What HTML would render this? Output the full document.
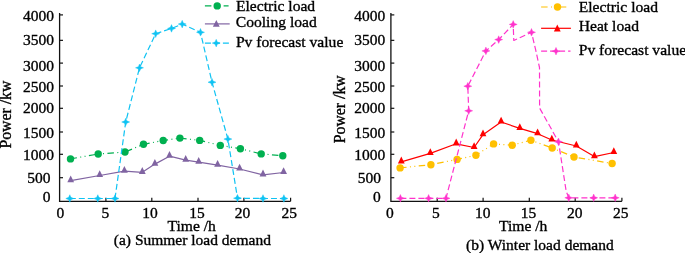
<!DOCTYPE html>
<html><head><meta charset="utf-8"><style>
html,body{margin:0;padding:0;background:#fff;}
body{width:685px;height:253px;overflow:hidden;}
svg{display:block;will-change:transform;}
text{font-family:"Liberation Serif",serif;fill:#000;stroke:#000;stroke-width:0.35px;}
</style></head><body>
<svg width="685" height="253" viewBox="0 0 685 253">
<rect width="685" height="253" fill="#fff"/>
<path d="M59.60,13V201.3H290.60" fill="none" stroke="#111" stroke-width="1.3"/><path d="M59.60,14.9h3.4" stroke="#111" stroke-width="1.2"/><path d="M59.60,40.35h3.4" stroke="#111" stroke-width="1.2"/><path d="M59.60,63.1h3.4" stroke="#111" stroke-width="1.2"/><path d="M59.60,86.0h3.4" stroke="#111" stroke-width="1.2"/><path d="M59.60,108.3h3.4" stroke="#111" stroke-width="1.2"/><path d="M59.60,132.0h3.4" stroke="#111" stroke-width="1.2"/><path d="M59.60,154.3h3.4" stroke="#111" stroke-width="1.2"/><path d="M59.60,177.7h3.4" stroke="#111" stroke-width="1.2"/><path d="M105.90,201.2v-3.4" stroke="#111" stroke-width="1.2"/><path d="M151.80,201.2v-3.4" stroke="#111" stroke-width="1.2"/><path d="M198.00,201.2v-3.4" stroke="#111" stroke-width="1.2"/><path d="M243.90,201.2v-3.4" stroke="#111" stroke-width="1.2"/><path d="M290.60,201.2v-3.4" stroke="#111" stroke-width="1.2"/><text x="22.89" y="21.40" font-size="15.5" >4000</text><text x="22.89" y="45.40" font-size="15.5" >3500</text><text x="22.89" y="70.90" font-size="15.5" >3000</text><text x="22.89" y="92.00" font-size="15.5" >2500</text><text x="22.89" y="113.20" font-size="15.5" >2000</text><text x="22.89" y="138.40" font-size="15.5" >1500</text><text x="22.89" y="160.30" font-size="15.5" >1000</text><text x="27.34" y="183.00" font-size="15.5" >500</text><text x="42.74" y="202.40" font-size="15.5" >0</text><text x="56.61" y="218.30" font-size="15.5" >0</text><text x="101.60" y="218.30" font-size="15.5" >5</text><text x="142.34" y="218.30" font-size="15.5" >10</text><text x="189.14" y="218.30" font-size="15.5" >15</text><text x="234.82" y="218.30" font-size="15.5" >20</text><text x="281.42" y="218.30" font-size="15.5" >25</text><path d="M390.90,13V201.3H621.90" fill="none" stroke="#111" stroke-width="1.3"/><path d="M390.90,14.9h3.4" stroke="#111" stroke-width="1.2"/><path d="M390.90,40.35h3.4" stroke="#111" stroke-width="1.2"/><path d="M390.90,63.1h3.4" stroke="#111" stroke-width="1.2"/><path d="M390.90,86.0h3.4" stroke="#111" stroke-width="1.2"/><path d="M390.90,108.3h3.4" stroke="#111" stroke-width="1.2"/><path d="M390.90,132.0h3.4" stroke="#111" stroke-width="1.2"/><path d="M390.90,154.3h3.4" stroke="#111" stroke-width="1.2"/><path d="M390.90,177.7h3.4" stroke="#111" stroke-width="1.2"/><path d="M437.20,201.2v-3.4" stroke="#111" stroke-width="1.2"/><path d="M483.10,201.2v-3.4" stroke="#111" stroke-width="1.2"/><path d="M529.30,201.2v-3.4" stroke="#111" stroke-width="1.2"/><path d="M575.20,201.2v-3.4" stroke="#111" stroke-width="1.2"/><path d="M621.90,201.2v-3.4" stroke="#111" stroke-width="1.2"/><text x="354.19" y="21.40" font-size="15.5" >4000</text><text x="354.19" y="45.40" font-size="15.5" >3500</text><text x="354.19" y="70.90" font-size="15.5" >3000</text><text x="354.19" y="92.00" font-size="15.5" >2500</text><text x="354.19" y="113.20" font-size="15.5" >2000</text><text x="354.19" y="138.40" font-size="15.5" >1500</text><text x="354.19" y="160.30" font-size="15.5" >1000</text><text x="357.64" y="183.00" font-size="15.5" >500</text><text x="373.04" y="202.40" font-size="15.5" >0</text><text x="386.01" y="218.30" font-size="15.5" >0</text><text x="432.00" y="218.30" font-size="15.5" >5</text><text x="475.04" y="218.30" font-size="15.5" >10</text><text x="520.84" y="218.30" font-size="15.5" >15</text><text x="567.02" y="218.30" font-size="15.5" >20</text><text x="613.02" y="218.30" font-size="15.5" >25</text><polyline points="70.7,180.7 99.7,175.5 124.4,171.1 142.3,172.3 154.9,164.1 169.5,156.2 185.7,160.2 198.7,162.2 217.6,165.2 239.6,169.0 263.0,174.8 283.6,172.5" fill="none" stroke="#8064A2" stroke-width="1.2" stroke-linejoin="round"/><path d="M70.70,175.50L74.10,182.30L67.30,182.30Z" fill="#8064A2"/><path d="M99.70,170.30L103.10,177.10L96.30,177.10Z" fill="#8064A2"/><path d="M124.40,165.90L127.80,172.70L121.00,172.70Z" fill="#8064A2"/><path d="M142.30,167.10L145.70,173.90L138.90,173.90Z" fill="#8064A2"/><path d="M154.90,158.90L158.30,165.70L151.50,165.70Z" fill="#8064A2"/><path d="M169.50,151.00L172.90,157.80L166.10,157.80Z" fill="#8064A2"/><path d="M185.70,155.00L189.10,161.80L182.30,161.80Z" fill="#8064A2"/><path d="M198.70,157.00L202.10,163.80L195.30,163.80Z" fill="#8064A2"/><path d="M217.60,160.00L221.00,166.80L214.20,166.80Z" fill="#8064A2"/><path d="M239.60,163.80L243.00,170.60L236.20,170.60Z" fill="#8064A2"/><path d="M263.00,169.60L266.40,176.40L259.60,176.40Z" fill="#8064A2"/><path d="M283.60,167.30L287.00,174.10L280.20,174.10Z" fill="#8064A2"/><polyline points="70.5,158.9 98.2,154.0 125.0,152.0 143.5,144.3 163.2,140.5 179.9,138.1 199.7,140.4 220.3,145.4 240.4,148.7 261.2,153.9 282.8,155.7" fill="none" stroke="#00B050" stroke-width="1.2" stroke-linejoin="round" stroke-dasharray="6.5 3.4 1 3.4 1 3.4"/><circle cx="70.5" cy="158.9" r="3.7" fill="#00B050"/><circle cx="98.2" cy="154.0" r="3.7" fill="#00B050"/><circle cx="125.0" cy="152.0" r="3.7" fill="#00B050"/><circle cx="143.5" cy="144.3" r="3.7" fill="#00B050"/><circle cx="163.2" cy="140.5" r="3.7" fill="#00B050"/><circle cx="179.9" cy="138.1" r="3.7" fill="#00B050"/><circle cx="199.7" cy="140.4" r="3.7" fill="#00B050"/><circle cx="220.3" cy="145.4" r="3.7" fill="#00B050"/><circle cx="240.4" cy="148.7" r="3.7" fill="#00B050"/><circle cx="261.2" cy="153.9" r="3.7" fill="#00B050"/><circle cx="282.8" cy="155.7" r="3.7" fill="#00B050"/><polyline points="69.8,198.5 97.8,198.5 115.0,198.5 125.7,122.0 139.5,67.8 155.7,33.7 171.5,28.4 182.2,24.1 200.5,32.3 212.0,82.2 227.9,139.1 237.5,198.2 263.0,198.5 283.9,198.5" fill="none" stroke="#0FC3F3" stroke-width="1.2" stroke-linejoin="round" stroke-dasharray="6 3"/><path d="M69.80,194.70L70.95,197.35L73.80,198.50L70.95,199.65L69.80,202.30L68.65,199.65L65.80,198.50L68.65,197.35Z" fill="#0FC3F3" stroke="#0FC3F3" stroke-width="0.4" stroke-linejoin="round"/><path d="M97.80,194.70L98.95,197.35L101.80,198.50L98.95,199.65L97.80,202.30L96.65,199.65L93.80,198.50L96.65,197.35Z" fill="#0FC3F3" stroke="#0FC3F3" stroke-width="0.4" stroke-linejoin="round"/><path d="M115.00,194.70L116.15,197.35L119.00,198.50L116.15,199.65L115.00,202.30L113.85,199.65L111.00,198.50L113.85,197.35Z" fill="#0FC3F3" stroke="#0FC3F3" stroke-width="0.4" stroke-linejoin="round"/><path d="M125.70,118.20L126.85,120.85L129.70,122.00L126.85,123.15L125.70,125.80L124.55,123.15L121.70,122.00L124.55,120.85Z" fill="#0FC3F3" stroke="#0FC3F3" stroke-width="0.4" stroke-linejoin="round"/><path d="M139.50,64.00L140.65,66.65L143.50,67.80L140.65,68.95L139.50,71.60L138.35,68.95L135.50,67.80L138.35,66.65Z" fill="#0FC3F3" stroke="#0FC3F3" stroke-width="0.4" stroke-linejoin="round"/><path d="M155.70,29.90L156.85,32.55L159.70,33.70L156.85,34.85L155.70,37.50L154.55,34.85L151.70,33.70L154.55,32.55Z" fill="#0FC3F3" stroke="#0FC3F3" stroke-width="0.4" stroke-linejoin="round"/><path d="M171.50,24.60L172.65,27.25L175.50,28.40L172.65,29.55L171.50,32.20L170.35,29.55L167.50,28.40L170.35,27.25Z" fill="#0FC3F3" stroke="#0FC3F3" stroke-width="0.4" stroke-linejoin="round"/><path d="M182.20,20.30L183.35,22.95L186.20,24.10L183.35,25.25L182.20,27.90L181.05,25.25L178.20,24.10L181.05,22.95Z" fill="#0FC3F3" stroke="#0FC3F3" stroke-width="0.4" stroke-linejoin="round"/><path d="M200.50,28.50L201.65,31.15L204.50,32.30L201.65,33.45L200.50,36.10L199.35,33.45L196.50,32.30L199.35,31.15Z" fill="#0FC3F3" stroke="#0FC3F3" stroke-width="0.4" stroke-linejoin="round"/><path d="M212.00,78.40L213.15,81.05L216.00,82.20L213.15,83.35L212.00,86.00L210.85,83.35L208.00,82.20L210.85,81.05Z" fill="#0FC3F3" stroke="#0FC3F3" stroke-width="0.4" stroke-linejoin="round"/><path d="M227.90,135.30L229.05,137.95L231.90,139.10L229.05,140.25L227.90,142.90L226.75,140.25L223.90,139.10L226.75,137.95Z" fill="#0FC3F3" stroke="#0FC3F3" stroke-width="0.4" stroke-linejoin="round"/><path d="M237.50,194.40L238.65,197.05L241.50,198.20L238.65,199.35L237.50,202.00L236.35,199.35L233.50,198.20L236.35,197.05Z" fill="#0FC3F3" stroke="#0FC3F3" stroke-width="0.4" stroke-linejoin="round"/><path d="M263.00,194.70L264.15,197.35L267.00,198.50L264.15,199.65L263.00,202.30L261.85,199.65L259.00,198.50L261.85,197.35Z" fill="#0FC3F3" stroke="#0FC3F3" stroke-width="0.4" stroke-linejoin="round"/><path d="M283.90,194.70L285.05,197.35L287.90,198.50L285.05,199.65L283.90,202.30L282.75,199.65L279.90,198.50L282.75,197.35Z" fill="#0FC3F3" stroke="#0FC3F3" stroke-width="0.4" stroke-linejoin="round"/><polyline points="400.1,167.9 430.9,164.7 457.1,159.4 475.9,155.3 493.6,143.9 512.2,145.2 530.9,140.2 552.2,148.0 574.0,157.0 612.1,163.5" fill="none" stroke="#FFC000" stroke-width="1.2" stroke-linejoin="round" stroke-dasharray="6.5 3.4 1 3.4 1 3.4"/><circle cx="400.1" cy="167.9" r="3.7" fill="#FFC000"/><circle cx="430.9" cy="164.7" r="3.7" fill="#FFC000"/><circle cx="457.1" cy="159.4" r="3.7" fill="#FFC000"/><circle cx="475.9" cy="155.3" r="3.7" fill="#FFC000"/><circle cx="493.6" cy="143.9" r="3.7" fill="#FFC000"/><circle cx="512.2" cy="145.2" r="3.7" fill="#FFC000"/><circle cx="530.9" cy="140.2" r="3.7" fill="#FFC000"/><circle cx="552.2" cy="148.0" r="3.7" fill="#FFC000"/><circle cx="574.0" cy="157.0" r="3.7" fill="#FFC000"/><circle cx="612.1" cy="163.5" r="3.7" fill="#FFC000"/><polyline points="401.3,161.8 430.3,153.4 456.2,143.8 474.1,147.5 483.0,134.7 501.1,122.0 519.8,128.4 537.6,133.7 551.8,140.0 576.3,146.0 594.4,156.6 613.8,152.5" fill="none" stroke="#FF0000" stroke-width="1.2" stroke-linejoin="round"/><path d="M401.30,156.60L404.70,163.40L397.90,163.40Z" fill="#FF0000"/><path d="M430.30,148.20L433.70,155.00L426.90,155.00Z" fill="#FF0000"/><path d="M456.20,138.60L459.60,145.40L452.80,145.40Z" fill="#FF0000"/><path d="M474.10,142.30L477.50,149.10L470.70,149.10Z" fill="#FF0000"/><path d="M483.00,129.50L486.40,136.30L479.60,136.30Z" fill="#FF0000"/><path d="M501.10,116.80L504.50,123.60L497.70,123.60Z" fill="#FF0000"/><path d="M519.80,123.20L523.20,130.00L516.40,130.00Z" fill="#FF0000"/><path d="M537.60,128.50L541.00,135.30L534.20,135.30Z" fill="#FF0000"/><path d="M551.80,134.80L555.20,141.60L548.40,141.60Z" fill="#FF0000"/><path d="M576.30,140.80L579.70,147.60L572.90,147.60Z" fill="#FF0000"/><path d="M594.40,151.40L597.80,158.20L591.00,158.20Z" fill="#FF0000"/><path d="M613.80,147.30L617.20,154.10L610.40,154.10Z" fill="#FF0000"/><polyline points="400.4,198.3 428.6,198.3 446.0,198.3 468.7,110.8 467.8,86.2 485.9,50.9 498.7,39.6 513.2,24.4 513.8,40.5 531.5,32.3 535.9,50.9 539.5,67.5 539.6,108.0 558.5,141.8 566.2,191.4 568.8,197.8 593.7,197.8 615.2,197.8" fill="none" stroke="#FF33CC" stroke-width="1.2" stroke-linejoin="round" stroke-dasharray="6 3"/><path d="M400.40,194.50L401.55,197.15L404.40,198.30L401.55,199.45L400.40,202.10L399.25,199.45L396.40,198.30L399.25,197.15Z" fill="#FF33CC" stroke="#FF33CC" stroke-width="0.4" stroke-linejoin="round"/><path d="M428.60,194.50L429.75,197.15L432.60,198.30L429.75,199.45L428.60,202.10L427.45,199.45L424.60,198.30L427.45,197.15Z" fill="#FF33CC" stroke="#FF33CC" stroke-width="0.4" stroke-linejoin="round"/><path d="M446.00,194.50L447.15,197.15L450.00,198.30L447.15,199.45L446.00,202.10L444.85,199.45L442.00,198.30L444.85,197.15Z" fill="#FF33CC" stroke="#FF33CC" stroke-width="0.4" stroke-linejoin="round"/><path d="M468.70,107.00L469.85,109.65L472.70,110.80L469.85,111.95L468.70,114.60L467.55,111.95L464.70,110.80L467.55,109.65Z" fill="#FF33CC" stroke="#FF33CC" stroke-width="0.4" stroke-linejoin="round"/><path d="M467.80,82.40L468.95,85.05L471.80,86.20L468.95,87.35L467.80,90.00L466.65,87.35L463.80,86.20L466.65,85.05Z" fill="#FF33CC" stroke="#FF33CC" stroke-width="0.4" stroke-linejoin="round"/><path d="M485.90,47.10L487.05,49.75L489.90,50.90L487.05,52.05L485.90,54.70L484.75,52.05L481.90,50.90L484.75,49.75Z" fill="#FF33CC" stroke="#FF33CC" stroke-width="0.4" stroke-linejoin="round"/><path d="M498.70,35.80L499.85,38.45L502.70,39.60L499.85,40.75L498.70,43.40L497.55,40.75L494.70,39.60L497.55,38.45Z" fill="#FF33CC" stroke="#FF33CC" stroke-width="0.4" stroke-linejoin="round"/><path d="M513.20,20.60L514.35,23.25L517.20,24.40L514.35,25.55L513.20,28.20L512.05,25.55L509.20,24.40L512.05,23.25Z" fill="#FF33CC" stroke="#FF33CC" stroke-width="0.4" stroke-linejoin="round"/><path d="M531.50,28.50L532.65,31.15L535.50,32.30L532.65,33.45L531.50,36.10L530.35,33.45L527.50,32.30L530.35,31.15Z" fill="#FF33CC" stroke="#FF33CC" stroke-width="0.4" stroke-linejoin="round"/><path d="M558.50,138.00L559.65,140.65L562.50,141.80L559.65,142.95L558.50,145.60L557.35,142.95L554.50,141.80L557.35,140.65Z" fill="#FF33CC" stroke="#FF33CC" stroke-width="0.4" stroke-linejoin="round"/><path d="M568.80,194.00L569.95,196.65L572.80,197.80L569.95,198.95L568.80,201.60L567.65,198.95L564.80,197.80L567.65,196.65Z" fill="#FF33CC" stroke="#FF33CC" stroke-width="0.4" stroke-linejoin="round"/><path d="M593.70,194.00L594.85,196.65L597.70,197.80L594.85,198.95L593.70,201.60L592.55,198.95L589.70,197.80L592.55,196.65Z" fill="#FF33CC" stroke="#FF33CC" stroke-width="0.4" stroke-linejoin="round"/><path d="M615.20,194.00L616.35,196.65L619.20,197.80L616.35,198.95L615.20,201.60L614.05,198.95L611.20,197.80L614.05,196.65Z" fill="#FF33CC" stroke="#FF33CC" stroke-width="0.4" stroke-linejoin="round"/><path d="M204.9,5.9H228.6" stroke="#00B050" stroke-width="1.2" stroke-dasharray="6.5 3.4 1 3.4 1 3.4"/><circle cx="217.2" cy="5.9" r="3.7" fill="#00B050"/><text x="235.95" y="10.70" font-size="15.6" >Electric load</text><path d="M204.9,23.9H229.7" stroke="#8064A2" stroke-width="1.2"/><path d="M216.30,20.00L219.70,26.80L212.90,26.80Z" fill="#8064A2"/><text x="235.76" y="26.50" font-size="15.6" >Cooling load</text><path d="M204.9,43.1H229.7" stroke="#0FC3F3" stroke-width="1.2" stroke-dasharray="6 3"/><path d="M216.20,39.30L217.35,41.95L220.20,43.10L217.35,44.25L216.20,46.90L215.05,44.25L212.20,43.10L215.05,41.95Z" fill="#0FC3F3" stroke="#0FC3F3" stroke-width="0.4" stroke-linejoin="round"/><text x="235.95" y="46.80" font-size="15.6" >Pv forecast value</text><path d="M541.1,7.0H569.3" stroke="#FFC000" stroke-width="1.2" stroke-dasharray="6.5 3.4 1 3.4 1 3.4"/><circle cx="557.5" cy="7.0" r="3.7" fill="#FFC000"/><text x="578.75" y="11.80" font-size="15.6" >Electric load</text><path d="M541.1,28.3H570.9" stroke="#FF0000" stroke-width="1.2"/><path d="M557.30,24.60L560.70,31.40L553.90,31.40Z" fill="#FF0000"/><text x="578.75" y="31.10" font-size="15.6" >Heat load</text><path d="M541.1,51.2H570.5" stroke="#FF33CC" stroke-width="1.2" stroke-dasharray="6 3"/><path d="M556.00,47.40L557.15,50.05L560.00,51.20L557.15,52.35L556.00,55.00L554.85,52.35L552.00,51.20L554.85,50.05Z" fill="#FF33CC" stroke="#FF33CC" stroke-width="0.4" stroke-linejoin="round"/><text x="578.75" y="55.30" font-size="15.6" >Pv forecast value</text><text x="167.52" y="231.00" font-size="15.6" >Time /h</text><text x="499.02" y="231.30" font-size="15.6" >Time /h</text><text x="113.82" y="244.60" font-size="15.5" >(a) Summer load demand</text><text x="466.12" y="249.50" font-size="15.5" >(b) Winter load demand</text><text transform="translate(11.20,114.40) rotate(-90)" x="-34.20" y="0" font-size="15.8">Power /kw</text><text transform="translate(345.40,109.10) rotate(-90)" x="-34.20" y="0" font-size="15.8">Power /kw</text>
</svg>
</body></html>
